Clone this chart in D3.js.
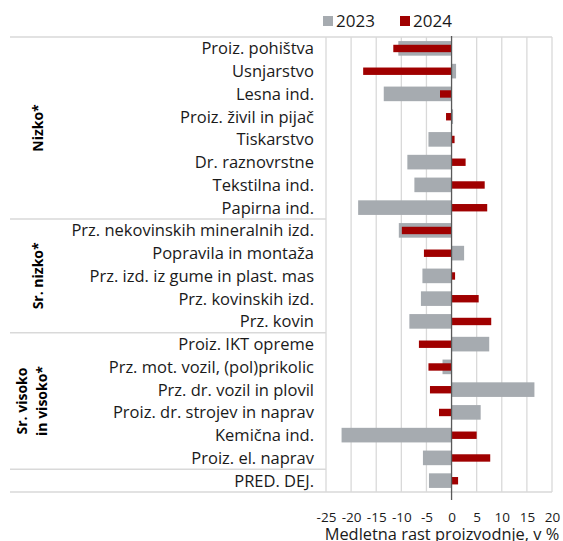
<!DOCTYPE html>
<html>
<head>
<meta charset="utf-8">
<script src="https://cdn.jsdelivr.net/npm/d3@7"></script>
<style>
  body { margin: 0; background: #fff; }
  svg { font-family: "Open Sans", "Noto Sans", sans-serif; }
</style>
</head>
<body>
<div id="chart"></div>
<script>
const width = 563;
const height = 541;

// data
const categories = [
  "Proiz. pohištva", "Usnjarstvo", "Lesna ind.", "Proiz. živil in pijač",
  "Tiskarstvo", "Dr. raznovrstne", "Tekstilna ind.", "Papirna ind.",
  "Prz. nekovinskih mineralnih izd.", "Popravila in montaža",
  "Prz. izd. iz gume in plast. mas", "Prz. kovinskih izd.", "Prz. kovin",
  "Proiz. IKT opreme", "Prz. mot. vozil, (pol)prikolic", "Prz. dr. vozil in plovil",
  "Proiz. dr. strojev in naprav", "Kemična ind.", "Proiz. el. naprav", "PRED. DEJ."
];
const values2023 = [-10.6, 0.9, -13.5, 0.3, -4.6, -8.8, -7.4, -18.6, -10.5, 2.5, -5.8, -6.1, -8.4, 7.5, -1.8, 16.5, 5.8, -21.9, -5.7, -4.5];
const values2024 = [-11.6, -17.6, -2.3, -1.1, 0.6, 2.8, 6.6, 7.1, -9.9, -5.5, 0.7, 5.4, 7.9, -6.5, -4.6, -4.3, -2.5, 5.0, 7.7, 1.3];
const seriesNames = ["2023", "2024"];
const groupNames = [["Nizko*"], ["Sr. nizko*"], ["Sr. visoko", "in visoko*"], []];
const groupSizes = [8, 5, 6, 1];
const tickValues = [-25, -20, -15, -10, -5, 0, 5, 10, 15, 20];
const axisTitle = "Medletna rast proizvodnje, v %";
const sourceNote = "Vir: SURS, preračuni UMAR.";

const colors = { "2023": "#a6abb0", "2024": "#a00000" };
const gridColor = "#d9d9d9";

const svg = d3.select("#chart").append("svg")
  .attr("width", width)
  .attr("height", height);

const plotTop = 37, plotBottom = 492;
const tableLeft = 10;

const x = d3.scaleLinear().domain([-25, 20]).range([326, 552]);
const y = d3.scaleBand().domain(categories).range([plotTop, plotBottom]);

// vertical gridlines
svg.append("g").selectAll("line")
  .data(tickValues.filter(d => d !== 0))
  .join("line")
  .attr("x1", d => x(d)).attr("x2", d => x(d))
  .attr("y1", plotTop).attr("y2", plotBottom)
  .attr("stroke", gridColor).attr("stroke-width", 1.3);

// table lines (top, bottom, group separators)
svg.append("line")
  .attr("x1", tableLeft).attr("x2", x(20))
  .attr("y1", plotTop).attr("y2", plotTop)
  .attr("stroke", gridColor).attr("stroke-width", 1.3);
svg.append("line")
  .attr("x1", tableLeft).attr("x2", x(20))
  .attr("y1", plotBottom).attr("y2", plotBottom)
  .attr("stroke", gridColor).attr("stroke-width", 1.3);

let start = 0;
const groupBounds = groupSizes.map(n => {
  const b = { from: start, to: start + n };
  start += n;
  return b;
});
groupBounds.slice(0, -1).forEach(b => {
  const yy = y(categories[b.to]);
  svg.append("line")
    .attr("x1", tableLeft).attr("x2", x(-25))
    .attr("y1", yy).attr("y2", yy)
    .attr("stroke", gridColor).attr("stroke-width", 1.3);
});

// bars: 2023 wide gray, 2024 thin red in front
const rows = categories.map((c, i) => ({ cat: c, v23: values2023[i], v24: values2024[i] }));
const bw = y.bandwidth();

svg.append("g").selectAll("rect")
  .data(rows)
  .join("rect")
  .attr("x", d => x(Math.min(0, d.v23)))
  .attr("width", d => Math.abs(x(d.v23) - x(0)))
  .attr("y", d => y(d.cat) + bw / 2 - 7.3)
  .attr("height", 14.6)
  .attr("fill", colors["2023"]);

svg.append("g").selectAll("rect")
  .data(rows)
  .join("rect")
  .attr("x", d => x(Math.min(0, d.v24)))
  .attr("width", d => Math.abs(x(d.v24) - x(0)))
  .attr("y", d => y(d.cat) + bw / 2 - 3.6)
  .attr("height", 7.4)
  .attr("fill", colors["2024"]);

// zero line
svg.append("line")
  .attr("x1", x(0)).attr("x2", x(0))
  .attr("y1", plotTop - 1).attr("y2", 500)
  .attr("stroke", "#595959").attr("stroke-width", 1.3);

// category labels
svg.append("g").selectAll("text")
  .data(categories)
  .join("text")
  .attr("x", 314)
  .attr("y", d => y(d) + bw / 2)
  .attr("dy", "0.36em")
  .attr("text-anchor", "end")
  .attr("font-size", 16.5)
  .attr("fill", "#1a1a1a")
  .text(d => d);

// group labels (rotated)
groupBounds.forEach((b, gi) => {
  const lines = groupNames[gi];
  if (!lines.length) return;
  const cy = (y(categories[b.from]) + y(categories[b.to - 1]) + bw) / 2;
  const xs = lines.length === 1 ? [38] : [22, 42];
  lines.forEach((t, li) => {
    svg.append("text")
      .attr("transform", `translate(${xs[li] + 5},${cy}) rotate(-90)`)
      .attr("text-anchor", "middle")
      .attr("font-size", 14)
      .attr("font-weight", "bold")
      .attr("fill", "#000")
      .text(t);
  });
});

// x axis labels (plain hyphen like the reference)
const xAxis = d3.axisBottom(x).tickValues(tickValues).tickSize(0).tickPadding(20)
  .tickFormat(d => String(d));
svg.append("g")
  .attr("transform", `translate(0,${plotBottom})`)
  .call(xAxis)
  .call(g => g.select(".domain").remove())
  .call(g => g.selectAll("text")
    .attr("font-size", 13.5)
    .attr("font-family", "'Open Sans', sans-serif")
    .attr("fill", "#1a1a1a"));

svg.append("text")
  .attr("x", 442).attr("y", 540)
  .attr("text-anchor", "middle")
  .attr("font-size", 16.4)
  .attr("fill", "#1a1a1a")
  .text(axisTitle);

svg.append("text")
  .attr("x", 10).attr("y", 551)
  .attr("font-size", 13)
  .attr("fill", "#1a1a1a")
  .text(sourceNote);

// legend
const legendX = [323, 400];
seriesNames.forEach((s, i) => {
  svg.append("rect")
    .attr("x", legendX[i]).attr("y", 16)
    .attr("width", 10).attr("height", 10)
    .attr("fill", colors[s]);
  svg.append("text")
    .attr("x", legendX[i] + 13).attr("y", 21)
    .attr("dy", "0.36em")
    .attr("font-size", 17)
    .attr("fill", "#1a1a1a")
    .text(s);
});
</script>
</body>
</html>
